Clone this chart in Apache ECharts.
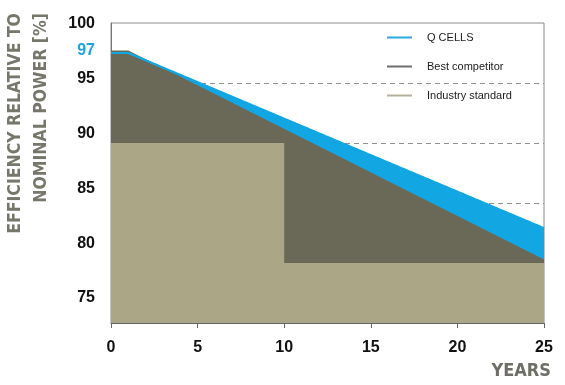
<!DOCTYPE html>
<html>
<head>
<meta charset="utf-8">
<script src="https://cdn.jsdelivr.net/npm/echarts@6/dist/echarts.min.js"></script>
<style>html,body{margin:0;padding:0;background:#fff}#c{width:565px;height:385px}</style>
</head>
<body>
<div id="c"></div>
<script>
// ---- data ----
const seriesNames = ['Q CELLS', 'Best competitor', 'Industry standard'];
const qcellsYears = [0, 1, 25];
const qcellsValues = [97.5, 97.5, 82.9];
const competitorYears = [0, 1, 25];
const competitorValues = [97.7, 97.7, 80.3];
const industryYears = [0, 10, 10, 25];
const industryValues = [90, 90, 80, 80];
const yTickLabels = [75, 80, 85, 90, 95, 97, 100];
const highlightTick = 97;

const pairs = (xs, ys) => xs.map((x, i) => [x, ys[i]]);

const BLUE = '#12A6E3', DARK = '#6A6957', LIGHT = '#AAA686';
const TITLE_FONT = "'DejaVu Sans Condensed', 'Roboto', sans-serif";
const chart = echarts.init(document.getElementById('c'), null, {renderer: 'canvas'});
chart.setOption({
  animation: false,
  grid: [
    {left: 111, right: 21, top: 23, bottom: 62, show: true, borderColor: '#8a8a8a', borderWidth: 1, backgroundColor: 'transparent'},
    {left: 111, right: 21, top: 24, height: 274, show: false}
  ],
  xAxis: [
    {type: 'value', gridIndex: 0, min: 0, max: 25, interval: 5,
     name: 'YEARS', nameLocation: 'end', nameGap: 7,
     nameTextStyle: {fontFamily: TITLE_FONT, fontWeight: 'bold', fontSize: 18, color: '#6e6e66', align: 'right', verticalAlign: 'top', padding: [39, 0, 0, 0]},
     axisLine: {show: true, lineStyle: {color: '#666', width: 1}},
     axisTick: {show: true, length: 5, lineStyle: {color: '#666'}},
     axisLabel: {margin: 17, fontFamily: 'Liberation Sans', fontWeight: 'bold', fontSize: 16, color: '#111'},
     splitLine: {show: false}},
    {type: 'value', gridIndex: 1, min: 0, max: 25, show: false}
  ],
  yAxis: [
    {type: 'value', gridIndex: 0, min: 75, max: 100, interval: 5,
     name: 'EFFICIENCY RELATIVE TO\nNOMINAL POWER [%]', nameLocation: 'end', nameGap: 10, nameRotate: 90,
     nameTextStyle: {fontFamily: TITLE_FONT, fontWeight: 'bold', fontSize: 17.5, lineHeight: 26, color: '#76766a', align: 'right', verticalAlign: 'bottom', padding: [0, 0, 57, 0]},
     axisLine: {show: true, lineStyle: {color: '#777'}},
     axisTick: {show: false},
     axisLabel: {show: false},
     splitLine: {show: true, showMinLine: false, showMaxLine: false, lineStyle: {color: '#909090', type: [5, 4], width: 1.2}}},
    {type: 'value', gridIndex: 1, min: 75, max: 100,
     axisLine: {show: false}, axisTick: {show: false}, splitLine: {show: false},
     axisLabel: {show: true, customValues: yTickLabels, margin: 16,
       fontFamily: 'Liberation Sans', fontWeight: 'bold', fontSize: 16, color: '#111',
       formatter: v => v === highlightTick ? '{b|' + v + '}' : String(v),
       rich: {b: {color: '#1AA3DC', fontFamily: 'Liberation Sans', fontWeight: 'bold', fontSize: 16, padding: [0, 0, 12, 0]}}}}
  ],
  legend: {
    orient: 'vertical', left: 382, top: 27, itemWidth: 25, itemHeight: 2, itemGap: 18, icon: 'rect',
    itemStyle: {borderWidth: 0},
    textStyle: {fontFamily: 'Liberation Sans', fontSize: 11, color: '#1a1a1a', padding: [0, 0, 0, 10]},
    data: [
      {name: seriesNames[0], itemStyle: {color: '#2AA8DE'}},
      {name: seriesNames[1], itemStyle: {color: '#6e6e6a'}},
      {name: seriesNames[2], itemStyle: {color: '#b5b19b'}}
    ]
  },
  series: [
    {name: seriesNames[0], type: 'line', xAxisIndex: 0, yAxisIndex: 0, data: pairs(qcellsYears, qcellsValues),
     showSymbol: false, lineStyle: {width: 2, color: BLUE}, itemStyle: {color: BLUE}, areaStyle: {color: BLUE, opacity: 1, origin: 'start'}},
    {name: seriesNames[1], type: 'line', data: pairs(competitorYears, competitorValues),
     showSymbol: false, lineStyle: {width: 0}, itemStyle: {color: DARK}, areaStyle: {color: DARK, opacity: 1, origin: 'start'}},
    {name: seriesNames[2], type: 'line', data: pairs(industryYears, industryValues),
     showSymbol: false, lineStyle: {width: 0}, itemStyle: {color: LIGHT}, areaStyle: {color: LIGHT, opacity: 1, origin: 'start'}},
    {name: seriesNames[0], type: 'line', data: pairs(qcellsYears, qcellsValues),
     showSymbol: false, lineStyle: {width: 1.6, color: BLUE, type: [5, 4]}, itemStyle: {color: BLUE}}
  ]
});
</script>
</body>
</html>
